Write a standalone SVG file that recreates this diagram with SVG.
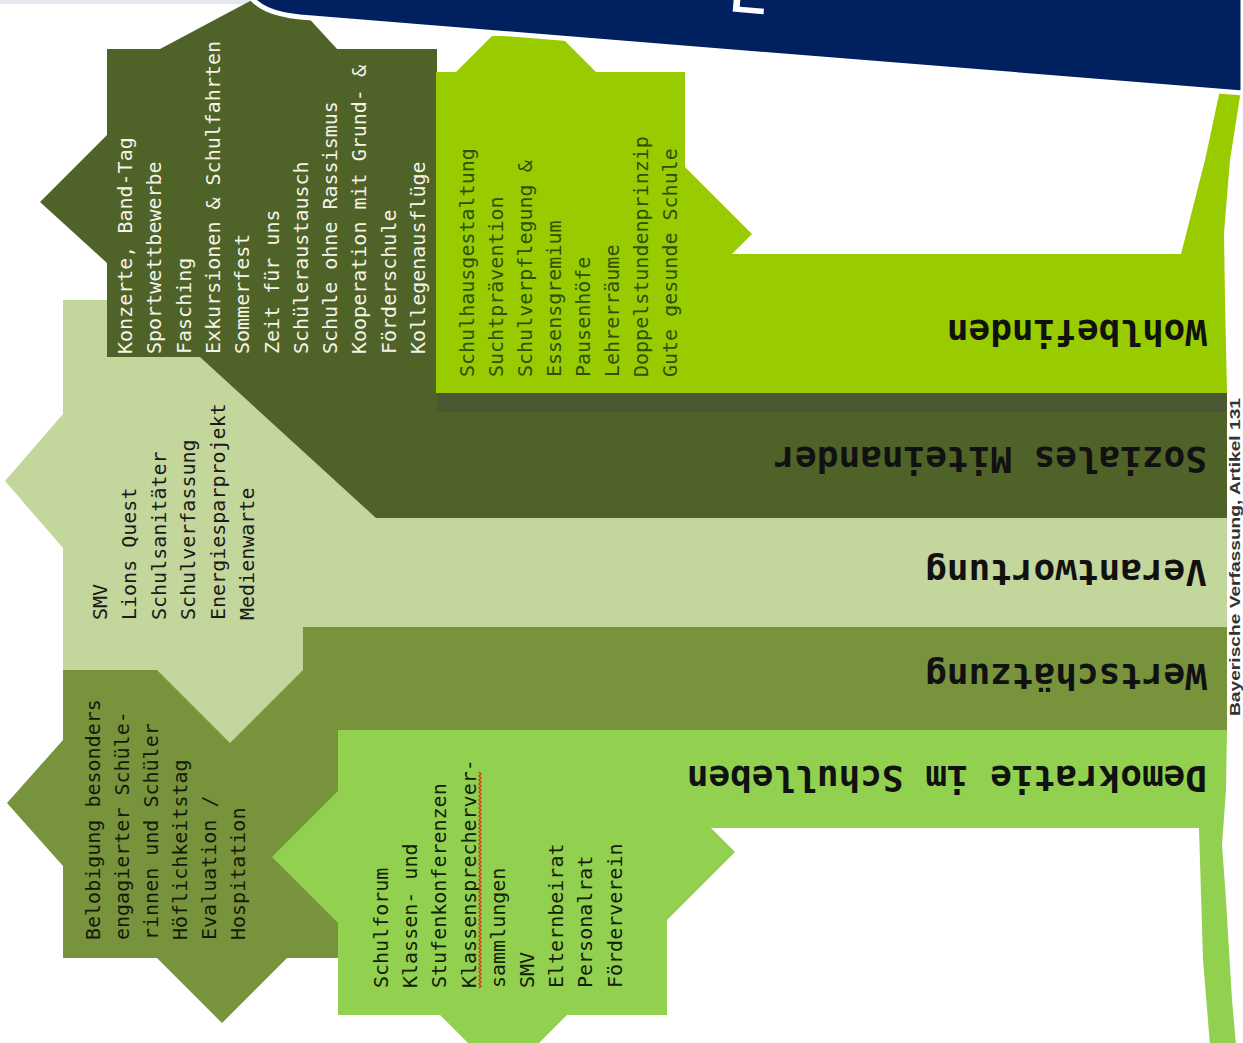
<svg xmlns="http://www.w3.org/2000/svg" width="1243" height="1043" viewBox="0 0 1243 1043">
<style>
.list{font-family:"DejaVu Sans Mono","Liberation Mono",monospace;font-size:20px}
.label{font-family:"DejaVu Sans Mono","Liberation Mono",monospace;font-size:36px;font-weight:bold;fill:#111}
.dark{fill:#4F6228}.olive{fill:#77933C}.pale{fill:#C3D69B}.yel{fill:#99CC00}.lgr{fill:#92D050}
</style>
<rect width="1243" height="1043" fill="#fff"/>
<rect x="0" y="0" width="252" height="4" fill="#e3e8ee"/>

<g id="node-wertschaetzung">
<polygon class="olive" points="63,670 303,670 303,627 1227,627 1227,730 400,730 400,958 287,958 222,1023 157,958 63,958 63,866 7,803 63,740"/>
<text class="label" transform="translate(1207,664) rotate(180)">Wertschätzung</text>
<text class="list" fill="#141a08" transform="translate(100,940) rotate(-90)"><tspan x="0" y="0">Belobigung besonders</tspan><tspan x="0" y="29">engagierter Schüle-</tspan><tspan x="0" y="58">rinnen und Schüler</tspan><tspan x="0" y="87">Höflichkeitstag</tspan><tspan x="0" y="116">Evaluation /</tspan><tspan x="0" y="145">Hospitation</tspan></text>
</g>

<g id="node-demokratie">
<polygon class="lgr" points="338,730 1227,730 1226,790 1222,845 1226,900 1232,1000 1236,1045 1210,1045 1203,960 1199,828 711,828 735,852 667,920 667,1015 567,1015 537,1045 470,1045 440,1015 338,1015 338,923 272,857 338,791"/>
<text class="label" transform="translate(1207,766) rotate(180)">Demokratie im Schulleben</text>
<text class="list" fill="#142008" transform="translate(388,988) rotate(-90)"><tspan x="0" y="0">Schulforum</tspan><tspan x="0" y="29.2">Klassen- und</tspan><tspan x="0" y="58.4">Stufenkonferenzen</tspan><tspan x="0" y="87.6">Klassensprecherver-</tspan><tspan x="0" y="116.8">sammlungen</tspan><tspan x="0" y="146">SMV</tspan><tspan x="0" y="175.2">Elternbeirat</tspan><tspan x="0" y="204.4">Personalrat</tspan><tspan x="0" y="233.6">Förderverein</tspan></text>
<path d="M479 988 l2 -2 -2 -2 2 -2 -2 -2 2 -2 -2 -2 2 -2 -2 -2 2 -2 -2 -2 2 -2 -2 -2 2 -2 -2 -2 2 -2 -2 -2 2 -2 -2 -2 2 -2 -2 -2 2 -2 -2 -2 2 -2 -2 -2 2 -2 -2 -2 2 -2 -2 -2 2 -2 -2 -2 2 -2 -2 -2 2 -2 -2 -2 2 -2 -2 -2 2 -2 -2 -2 2 -2 -2 -2 2 -2 -2 -2 2 -2 -2 -2 2 -2 -2 -2 2 -2 -2 -2 2 -2 -2 -2 2 -2 -2 -2 2 -2 -2 -2 2 -2 -2 -2 2 -2 -2 -2 2 -2 -2 -2 2 -2 -2 -2 2 -2 -2 -2 2 -2 -2 -2 2 -2 -2 -2 2 -2 -2 -2 2 -2 -2 -2 2 -2 -2 -2 2 -2 -2 -2 2 -2 -2 -2 2 -2 -2 -2 2 -2 -2 -2 2 -2 -2 -2 2 -2 -2 -2 2 -2 -2 -2 2 -2 -2 -2 2 -2 -2 -2 2 -2 -2 -2 2 -2 -2 -2 2 -2 -2 -2 2 -2 -2 -2 2 -2 -2 -2 2 -2 -2 -2 2 -2 -2 -2 2 -2 -2 -2" fill="none" stroke="#d8401c" stroke-width="1.5"/>
</g>

<g id="node-verantwortung">
<polygon class="pale" points="63,300 430,300 430,518 1227,518 1227,627 303,627 303,670 230,743 157,670 63,670 63,548 5,481 63,414"/>
<text class="label" transform="translate(1207,560) rotate(180)">Verantwortung</text>
<text class="list" fill="#1a1a1a" transform="translate(107,620) rotate(-90)"><tspan x="0" y="0">SMV</tspan><tspan x="0" y="29.4">Lions Quest</tspan><tspan x="0" y="58.8">Schulsanitäter</tspan><tspan x="0" y="88.2">Schulverfassung</tspan><tspan x="0" y="117.6">Energiesparprojekt</tspan><tspan x="0" y="147">Medienwarte</tspan></text>
</g>

<g id="node-soziales">
<polygon class="dark" points="107,49 160,49 252,0 292,0 337,49 437,49 437,393 1227,393 1227,518 376,518 200,357 107,357 107,263 40,202 107,135"/>
<rect x="437" y="393" width="790" height="19" fill="#4b5834"/>
<text class="label" transform="translate(1207,447) rotate(180)">Soziales Miteinander</text>
<text class="list" fill="#f4f4e8" transform="translate(132,354) rotate(-90)"><tspan x="0" y="0">Konzerte, Band-Tag</tspan><tspan x="0" y="29.3">Sportwettbewerbe</tspan><tspan x="0" y="58.6">Fasching</tspan><tspan x="0" y="87.9">Exkursionen &amp; Schulfahrten</tspan><tspan x="0" y="117.2">Sommerfest</tspan><tspan x="0" y="146.5">Zeit für uns</tspan><tspan x="0" y="175.8">Schüleraustausch</tspan><tspan x="0" y="205.1">Schule ohne Rassismus</tspan><tspan x="0" y="234.4">Kooperation mit Grund- &amp;</tspan><tspan x="0" y="263.7">Förderschule</tspan><tspan x="0" y="293">Kollegenausflüge</tspan></text>
</g>

<g id="node-wohlbefinden">
<polygon class="yel" points="436,72 456,72 492,36 560,36 596,72 685,72 685,167 752,234 732,254 1181,254 1205,160 1220,90 1241,90 1230,160 1224,233 1225,300 1227,393 436,393"/>
<text class="label" transform="translate(1207,320) rotate(180)">Wohlbefinden</text>
<text class="list" fill="#2f4f06" transform="translate(474,377) rotate(-90)"><tspan x="0" y="0">Schulhausgestaltung</tspan><tspan x="0" y="29">Suchtprävention</tspan><tspan x="0" y="58">Schulverpflegung &amp;</tspan><tspan x="0" y="87">Essensgremium</tspan><tspan x="0" y="116">Pausenhöfe</tspan><tspan x="0" y="145">Lehrerräume</tspan><tspan x="0" y="174">Doppelstundenprinzip</tspan><tspan x="0" y="203">Gute gesunde Schule</tspan></text>
</g>

<g id="connectors"></g>

<g id="banner">
<path d="M250 -4 C258 7 272 14 300 17 L1243 93 L1243 -4 Z" fill="#002060" stroke="#fff" stroke-width="5"/>
<text x="727" y="11" font-family="Liberation Sans, sans-serif" font-size="70" fill="#fff" transform="rotate(5 727 11)">L</text>
</g>

<text id="source" transform="translate(1240,716) rotate(-90)" font-family="Liberation Sans, sans-serif" font-size="14" font-weight="bold" fill="#333" textLength="318" lengthAdjust="spacingAndGlyphs">Bayerische Verfassung, Artikel 131</text>
</svg>
